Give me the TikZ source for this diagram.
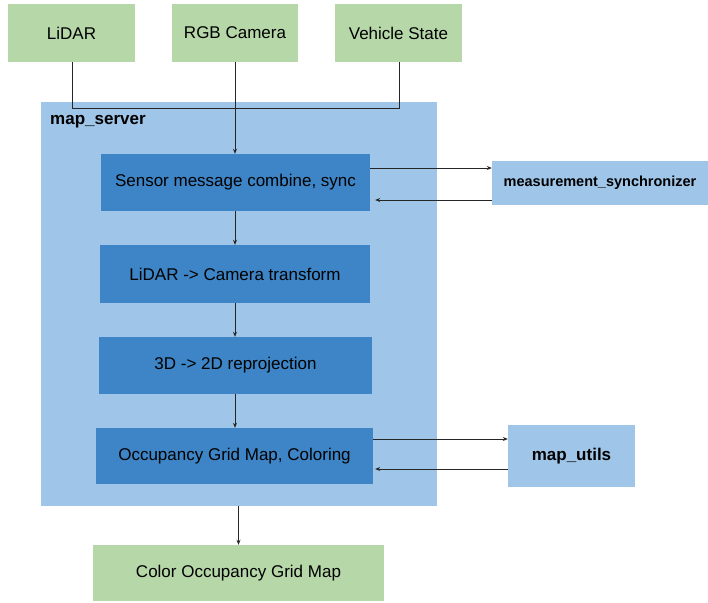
\documentclass[tikz,border=0pt]{standalone}
\usepackage{fontspec}
\setmainfont{Liberation Sans}
\usetikzlibrary{arrows.meta}
\definecolor{boxgreen}{HTML}{B6D7A8}
\definecolor{boxlight}{HTML}{9FC5E8}
\definecolor{boxdark}{HTML}{3D85C6}
\tikzset{
  greenbox/.style={fill=boxgreen, draw=none, inner sep=0pt, font=\fontsize{17}{20}\selectfont},
  lightbox/.style={fill=boxlight, draw=none, inner sep=0pt},
  darkbox/.style={fill=boxdark, draw=none, inner sep=0pt, font=\fontsize{17}{20}\selectfont},
  conn/.style={draw=black!85, line width=0.7pt},
  arr/.style={conn, -{Stealth[length=5pt,width=4pt]}},
}
\begin{document}
\begin{tikzpicture}[x=1pt,y=-1pt]
\useasboundingbox (0,0) rectangle (708,602);
% big container
\node[lightbox, minimum width=396pt, minimum height=404pt] (server) at (239,304) {};
\node[anchor=west, inner sep=0pt, font=\bfseries\fontsize{17}{20}\selectfont] (serverlbl) at (50,122) {map\_server};
% inputs
\node[greenbox, minimum width=127pt, minimum height=58pt] (lidar) at (71.5,33) {LiDAR};
\node[greenbox, minimum width=126pt, minimum height=58pt] (rgb) at (235,33) {RGB Camera};
\node[greenbox, minimum width=127pt, minimum height=58pt] (veh) at (398.5,33) {Vehicle State};
% inner steps
\node[darkbox, minimum width=269pt, minimum height=57pt] (sync) at (235.5,182.5) {Sensor message combine, sync};
\node[darkbox, minimum width=270pt, minimum height=58pt] (tf) at (235,274) {LiDAR -> Camera transform};
\node[darkbox, minimum width=273pt, minimum height=57pt] (proj) at (235.5,365.5) {3D -> 2D reprojection};
\node[darkbox, minimum width=277pt, minimum height=56pt] (ogm) at (234.5,456) {Occupancy Grid Map, Coloring};
% side boxes
\node[lightbox, minimum width=216pt, minimum height=44pt, font=\bfseries\fontsize{14.5}{17}\selectfont] (msync) at (600,183) {measurement\_synchronizer};
\node[lightbox, minimum width=127pt, minimum height=62pt, font=\bfseries\fontsize{17}{20}\selectfont] (mutils) at (571.5,456) {map\_utils};
% output
\node[greenbox, minimum width=291pt, minimum height=56pt] (out) at (238.5,573) {Color Occupancy Grid Map};
% connectors
\coordinate (j1) at (72,108);
\coordinate (j2) at (399,108);
\coordinate (cx) at (235,0);
\draw[conn] (lidar.south -| j1) -- (j1) -- (j2) -- (veh.south -| j2);
\draw[arr] (rgb.south) -- (rgb.south |- sync.north);
\draw[arr] (sync.south -| cx) -- (tf.north -| cx);
\draw[arr] (tf.south -| cx) -- (proj.north -| cx);
\draw[arr] (proj.south -| cx) -- (ogm.north -| cx);
\draw[arr] (sync.east |- 0,168) -- (msync.west |- 0,168);
\draw[arr] (msync.west |- 0,200) -- ([xshift=5pt]sync.east |- 0,200);
\draw[arr] (ogm.east |- 0,439) -- (mutils.west |- 0,439);
\draw[arr] (mutils.west |- 0,469) -- ([xshift=2pt]ogm.east |- 0,469);
\draw[arr] (server.south -| out.north) -- (out.north);
\end{tikzpicture}
\end{document}
